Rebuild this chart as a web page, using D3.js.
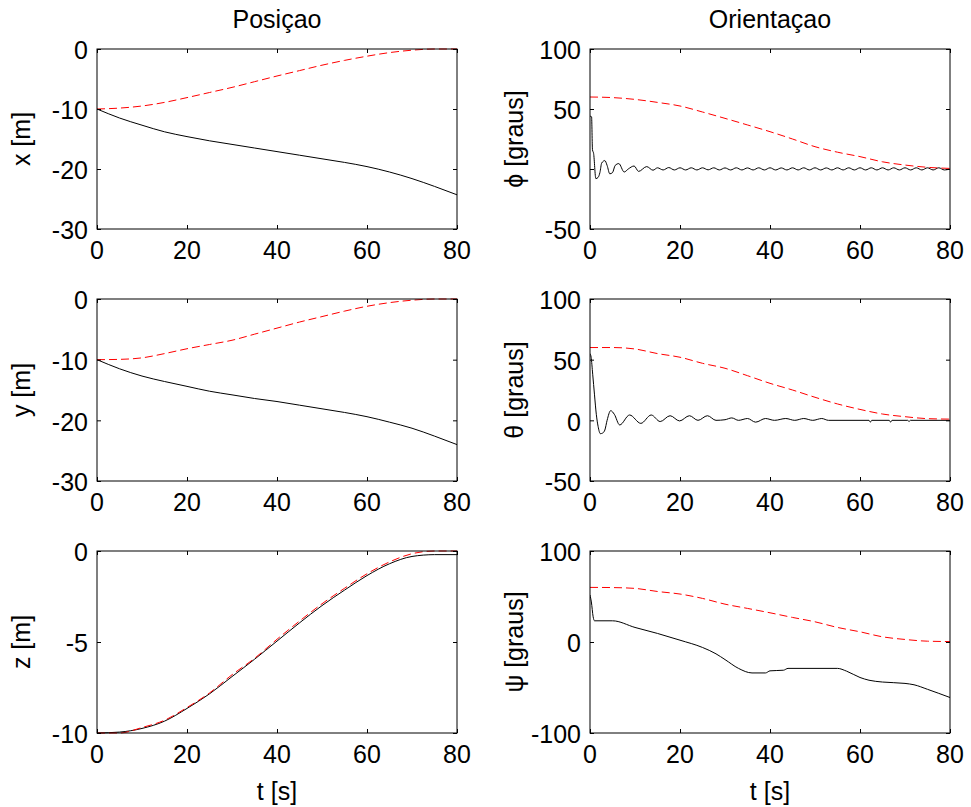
<!DOCTYPE html>
<html>
<head>
<meta charset="utf-8">
<script src="https://cdn.jsdelivr.net/npm/d3@7"></script>
<style>
  html, body { margin: 0; padding: 0; background: #fff; }
  svg { display: block; }
  text { font-family: "Liberation Sans", Arial, Helvetica, sans-serif; fill: #000; }
</style>
</head>
<body>
<svg id="chart" width="971" height="807"></svg>
<script>
// ---------------- data ----------------
const columnTitles = ["Posiçao", "Orientaçao"];
const xTicks = [0, 20, 40, 60, 80];
const xLabel = "t [s]";

// coarse time base for position/reference curves
const tCoarse = [0,5,10,15,20,25,30,35,40,45,50,55,60,65,70,75,80];

// x [m]
const xRef = [-10,-9.85,-9.5,-8.9,-8.1,-7.25,-6.4,-5.45,-4.5,-3.6,-2.7,-1.9,-1.2,-0.6,-0.2,0,0];
const xAct = [-10,-11.5,-12.7,-13.8,-14.6,-15.3,-15.9,-16.5,-17.1,-17.7,-18.3,-18.9,-19.6,-20.5,-21.6,-22.9,-24.3];
// y [m]
const yRef = [-10,-9.95,-9.7,-9.0,-8.2,-7.5,-6.8,-5.8,-4.8,-3.8,-2.9,-2.0,-1.2,-0.6,-0.2,0,0];
const yAct = [-10,-11.5,-12.7,-13.6,-14.4,-15.2,-15.8,-16.4,-16.9,-17.5,-18.1,-18.7,-19.4,-20.3,-21.3,-22.6,-24.0];
// z [m]
const zRef = [-10,-10,-9.7,-9.3,-8.6,-7.8,-6.8,-5.9,-4.85,-3.85,-2.9,-2.05,-1.25,-0.6,-0.15,0,0];
const zAct = [-10,-9.95,-9.75,-9.35,-8.65,-7.85,-6.9,-5.95,-4.95,-3.95,-3.0,-2.15,-1.35,-0.7,-0.3,-0.2,-0.2];

// phi [graus]
const phiRef = [60,59.5,58,55.5,52.5,47.5,42.2,36.7,31.1,25,18.6,14,10.3,6,3.3,1.4,0.5];
const phiT = [0,0.35,0.55,0.8,1.3,1.8,2.2,2.6,3.3,3.8,4.4,5.0,5.6,6.4,7.6,8.5,9.8,10.8,12.6,14,
  15,16.25,17.5,18.75,20,21.25,22.5,23.75,25,26.25,27.5,28.75,30,31.25,32.5,33.75,35,36.25,37.5,38.75,
  40,41.25,42.5,43.75,45,46.25,47.5,48.75,50,51.25,52.5,53.75,55,56.25,57.5,58.75,60,61.25,62.5,63.75,
  65,66.25,67.5,68.75,70,71.25,72.5,73.75,75,76.25,77.5,78.75,80];
const phiAct = [44,43.5,16,13,-8,-7,-3,5,7,3,-4,-3,3,4.5,-2.5,0,2.5,-2,2,-1,
  1,-0.8,1.2,-0.8,1,-0.8,1,-0.8,1,-0.7,1,-0.8,0.9,-0.8,1,-0.8,0.9,-0.8,1,-0.8,
  1,-0.8,0.9,-0.8,1,-0.8,1,-0.8,1,-0.8,0.9,-0.8,1,-0.8,1,-0.8,1,-0.8,1,-0.8,
  1,-0.8,1,-0.8,1,-0.8,1,-0.8,1,-0.8,1,-0.8,0];

// theta [graus]
const thetaRef = [60,60,58.8,55,52,47,42.9,36.8,30.5,25,19,13.5,9,5.2,3.0,1.4,1];
const thetaT = [0,0.25,0.6,1.0,1.4,1.8,2.3,2.8,3.3,3.8,4.6,5.4,6.6,8.8,11.3,13.6,15.6,17.8,19.9,22.1,
  24,26.1,28,30,31.5,33,35,36.8,39,41,43.5,45.5,47.5,49.5,51.5,53,62,62.3,62.6,66.5,66.8,67.1,70.6,70.9,71.2,80];
const thetaAct = [55,52,38,21,5,-5,-11,-10.5,-8,0,8,5,-3.8,4.4,-2.5,4.4,-1,3.8,-0.5,3.8,
  0,3.8,0,0.5,2,0,1.5,-1.5,1.5,0,1.5,0,1.5,0,1.5,0,0,-1.5,0,0,-1.5,0,0,-1,0,0];

// psi [graus]
const psiRef = [60,59.8,58.9,55.5,52.7,47.9,41.6,36.9,32.1,27,22.2,16,11.2,5.7,2.8,0.9,0.5];
const psiT = [0,0.3,0.7,1,5,10,15,20,25,28,30,33,36,39,40,43,44,50,55,57,60,62,65,70,72,75,80];
const psiAct = [51.6,44,27.7,23.3,23.3,16,9.4,2,-6,-13,-19.3,-29,-34,-34,-31.7,-31,-29,-29,-29,-32,-39,-42,-44,-45.5,-47,-52,-61];

// y-axis settings per panel
const yDomains = [[-30,0],[-50,100],[-30,0],[-50,100],[-10,0],[-100,100]];
const yTickSets = [[-30,-20,-10,0],[-50,0,50,100],[-30,-20,-10,0],[-50,0,50,100],[-10,-5,0],[-100,0,100]];
const yLabels = ["x [m]","\u03D5 [graus]","y [m]","\u03B8 [graus]","z [m]","\u03C8 [graus]"];

// ---------------- layout ----------------
const colX = [[97,457],[590,950]];
const rowY = [[49,229],[299,481],[551,733]];
const FS = 25;

const panels = [
  {r:0,c:0,act:{t:tCoarse,v:xAct},ref:{t:tCoarse,v:xRef}},
  {r:0,c:1,act:{t:phiT,v:phiAct},ref:{t:tCoarse,v:phiRef}},
  {r:1,c:0,act:{t:tCoarse,v:yAct},ref:{t:tCoarse,v:yRef}},
  {r:1,c:1,act:{t:thetaT,v:thetaAct},ref:{t:tCoarse,v:thetaRef}},
  {r:2,c:0,act:{t:tCoarse,v:zAct},ref:{t:tCoarse,v:zRef}},
  {r:2,c:1,act:{t:psiT,v:psiAct},ref:{t:tCoarse,v:psiRef}},
];

const svg = d3.select("#chart");
const defs = svg.append("defs");

panels.forEach((p, i) => {
  const [x0, x1] = colX[p.c];
  const [y0, y1] = rowY[p.r];
  const x = d3.scaleLinear().domain([0, 80]).range([x0, x1]);
  const y = d3.scaleLinear().domain(yDomains[i]).range([y1, y0]);
  const g = svg.append("g");

  const clipId = "clip" + i;
  defs.append("clipPath").attr("id", clipId)
    .append("rect").attr("x", x0).attr("y", y0 - 1).attr("width", x1 - x0).attr("height", y1 - y0 + 2);

  const lineGen = d3.line().x(d => x(d[0])).y(d => y(d[1])).curve(d3.curveMonotoneX);

  const plot = g.append("g").attr("clip-path", `url(#${clipId})`);
  plot.append("path")
    .datum(p.act.t.map((t, k) => [t, p.act.v[k]]))
    .attr("d", lineGen)
    .attr("fill", "none").attr("stroke", "#000").attr("stroke-width", 1);
  plot.append("path")
    .datum(p.ref.t.map((t, k) => [t, p.ref.v[k]]))
    .attr("d", lineGen)
    .attr("fill", "none").attr("stroke", "#ff0000").attr("stroke-width", 1)
    .attr("stroke-dasharray", "8,4");

  // axes: ticks inside on all four sides, labels bottom/left
  const bottom = g.append("g").attr("transform", `translate(0,${y1})`)
    .call(d3.axisBottom(x).tickValues(xTicks).tickFormat("").tickSizeInner(-4).tickSizeOuter(0));
  const top = g.append("g").attr("transform", `translate(0,${y0})`)
    .call(d3.axisTop(x).tickValues(xTicks).tickFormat("").tickSizeInner(-4).tickSizeOuter(0));
  const left = g.append("g").attr("transform", `translate(${x0},0)`)
    .call(d3.axisLeft(y).tickValues(yTickSets[i]).tickFormat("").tickSizeInner(-4).tickSizeOuter(0));
  const right = g.append("g").attr("transform", `translate(${x1},0)`)
    .call(d3.axisRight(y).tickValues(yTickSets[i]).tickFormat("").tickSizeInner(-4).tickSizeOuter(0));
  [bottom, top, left, right].forEach(a => {
    a.select(".domain").remove();
    a.selectAll("text").remove();
    a.selectAll("line").attr("stroke", "#000").attr("stroke-width", 1);
  });

  // frame
  g.append("rect").attr("x", x0).attr("y", y0).attr("width", x1 - x0).attr("height", y1 - y0)
    .attr("fill", "none").attr("stroke", "#000").attr("stroke-width", 1);

  // tick labels
  g.selectAll(".xtl").data(xTicks).enter().append("text")
    .attr("x", d => x(d)).attr("y", y1 + 30)
    .attr("text-anchor", "middle").attr("font-size", FS).text(d => d);
  g.selectAll(".ytl").data(yTickSets[i]).enter().append("text")
    .attr("x", x0 - 9).attr("y", d => y(d) + 1.5).attr("dy", "0.35em")
    .attr("text-anchor", "end").attr("font-size", FS).text(d => d);

  // y label
  const lx = x0 - 67, ly = (y0 + y1) / 2;
  g.append("text").attr("transform", `translate(${lx},${ly}) rotate(-90)`)
    .attr("text-anchor", "middle").attr("font-size", FS).text(yLabels[i]);

  if (p.r === 0) {
    g.append("text").attr("x", (x0 + x1) / 2).attr("y", 28)
      .attr("text-anchor", "middle").attr("font-size", FS).text(columnTitles[p.c]);
  }
  if (p.r === 2) {
    g.append("text").attr("x", (x0 + x1) / 2).attr("y", 800)
      .attr("text-anchor", "middle").attr("font-size", FS).text(xLabel);
  }
});
</script>
</body>
</html>
